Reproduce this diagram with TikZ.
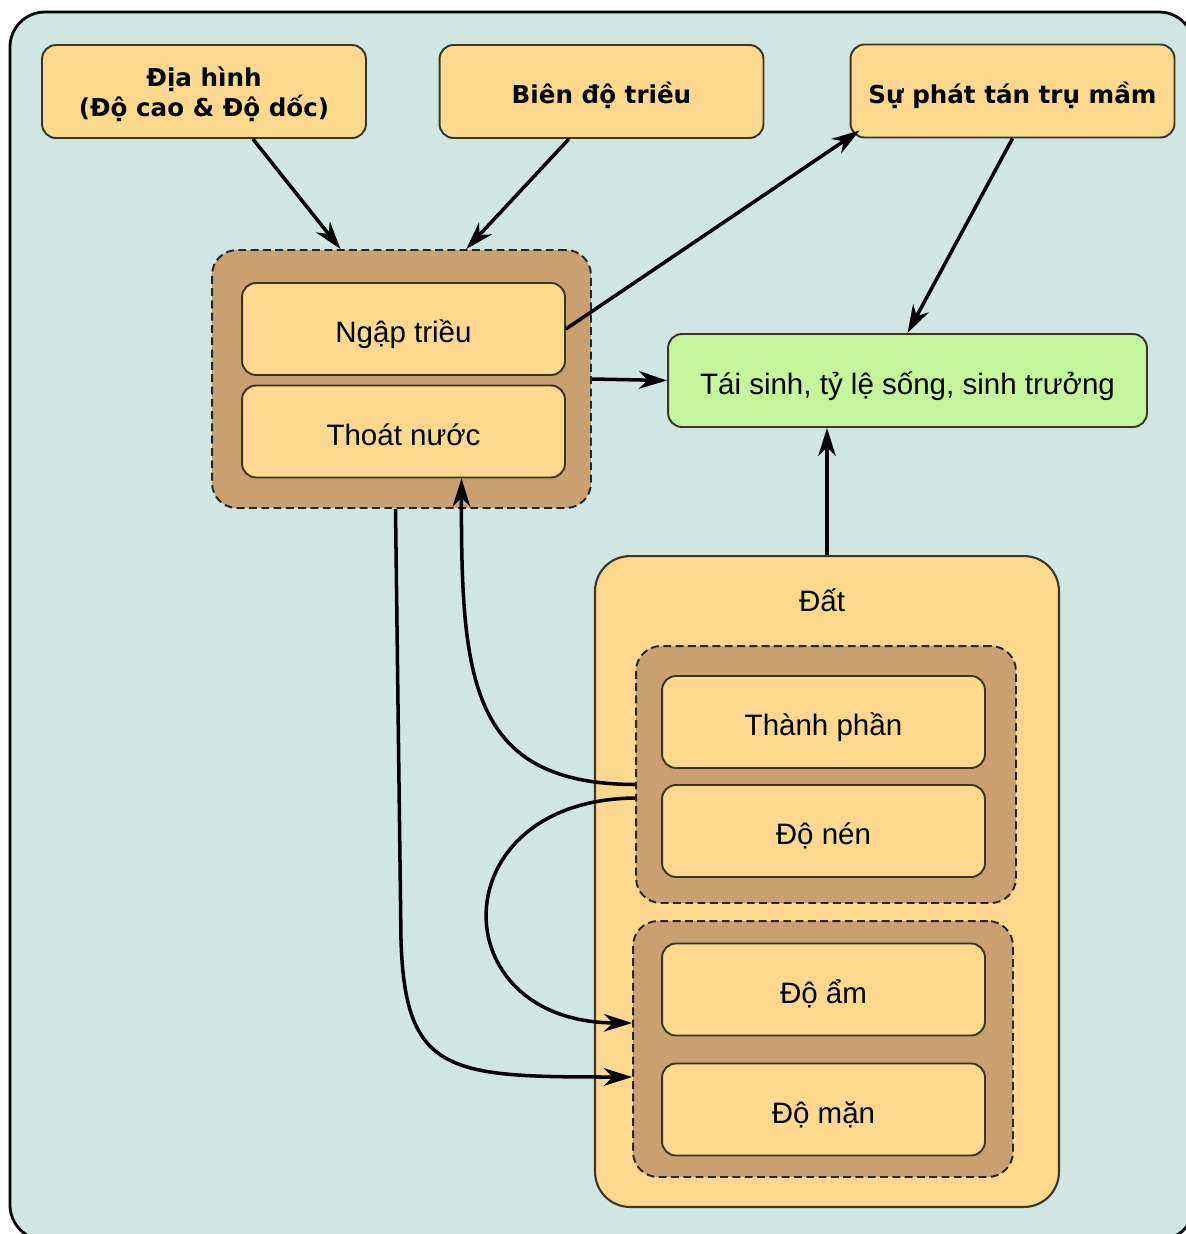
\documentclass[tikz,border=0pt]{standalone}
\usepackage{fontspec}
\setmainfont{Liberation Sans}
\newfontfamily\headfont{DejaVu Sans}
\usetikzlibrary{arrows.meta, positioning, calc}
\definecolor{frameteal}{HTML}{CFE6E3}
\definecolor{boxorange}{HTML}{FCD98F}
\definecolor{grouptan}{HTML}{C9A070}
\definecolor{boxgreen}{HTML}{C5F59B}
\definecolor{boxline}{HTML}{3A3528}

\begin{document}
\begin{tikzpicture}[x=0.02cm, y=-0.02cm,
    factorbox/.style={draw=boxline, line width=1.1pt, fill=boxorange, rounded corners=0.28cm,
        minimum width=6.48cm, minimum height=1.86cm, align=center,
        font=\headfont\bfseries\fontsize{14}{17}\selectfont},
    headline/.style={text height=17.6pt, text depth=3.4pt},
    itembox/.style={draw=boxline, line width=1.1pt, fill=boxorange, rounded corners=0.28cm,
        minimum width=6.46cm, minimum height=1.84cm, text height=19pt, text depth=3.5pt,
        font=\fontsize{16.8}{20}\selectfont},
    groupbox/.style={draw=black!85, line width=1.1pt, dash pattern=on 4.5pt off 2.5pt,
        fill=grouptan, rounded corners=0.5cm},
    link/.style={line width=2pt, -{Stealth[length=16pt, width=10pt, inset=5pt]}}
]
    % Canvas
    \useasboundingbox (0,0) rectangle (1186,1234);
    \clip (0,0) rectangle (1186,1234);
    \fill[white] (0,0) rectangle (1186,1234);
    \filldraw[fill=frameteal, draw=black, line width=1.6pt, rounded corners=0.7cm]
        (10,12) rectangle (1194,1240);

    % Top factors
    \node[factorbox] (dia) at (204,91.5) {\rule{0pt}{14pt}Địa hình\\(Độ cao \& Độ dốc)};
    \node[factorbox, headline] (bien) at (601.5,91.5) {Biên độ triều};
    \node[factorbox, headline] (phat) at (1012.5,91) {Sự phát tán trụ mầm};

    % Hydrology
    \node[groupbox, minimum width=7.58cm, minimum height=5.16cm] (hydro) at (401.5,379) {};
    \node[itembox] (ngap) at (403.5,329) {Ngập triều};
    \node[itembox] (thoat) at (403.5,431.5) {Thoát nước};

    % Response
    \node[itembox, fill=boxgreen, minimum width=9.58cm, minimum height=1.86cm] (tai)
        at (907.5,380.5) {Tái sinh, tỷ lệ sống, sinh trưởng};

    % Soil
    \node[draw=boxline, line width=1.2pt, fill=boxorange, rounded corners=0.7cm,
        minimum width=9.28cm, minimum height=13.02cm] (dat) at (827,881.5) {};
    \node[font=\fontsize{16.8}{20}\selectfont] (datlbl) at (822,600) {Đất};
    \node[groupbox, minimum width=7.6cm, minimum height=5.14cm] (g1) at (826,774.5) {};
    \node[itembox] (thanh) at (823.5,722) {Thành phần};
    \node[itembox] (nen) at (823.5,831) {Độ nén};
    \node[groupbox, minimum width=7.6cm, minimum height=5.12cm] (g2) at (823,1049) {};
    \node[itembox] (am) at (823.5,989.5) {Độ ẩm};
    \node[itembox] (man) at (823.5,1109.5) {Độ mặn};

    % Links
    \draw[link] ($(dia.south west)!0.65!(dia.south east)$) -- ($(hydro.north west)!0.34!(hydro.north east)$);
    \draw[link] ($(bien.south west)!0.40!(bien.south east)$) -- ($(hydro.north west)!0.67!(hydro.north east)$);
    \draw[link] (ngap.east) -- ([shift={(10,-8)}]phat.south west);
    \draw[link] (phat.south) -- (tai.north);
    \draw[link] (hydro.east) -- (tai.west);
    \draw[link] (dat.north) -- (dat.north |- tai.south);
    \draw[link] ($(g1.west)+(0,10)$) .. controls (470,784) and (461,680) .. ($(thoat.south)+(58,0)$);
    \draw[link] ($(g1.west)+(0,23.5)$) .. controls (440,800) and (440,1022) .. ($(g2.west)+(0,-26)$);
    \draw[link] ($(hydro.south)+(-6,0)$) -- (401,940) .. controls (405,1075) and (450,1077) .. ($(g2.west)+(0,28)$);
\end{tikzpicture}
\end{document}
